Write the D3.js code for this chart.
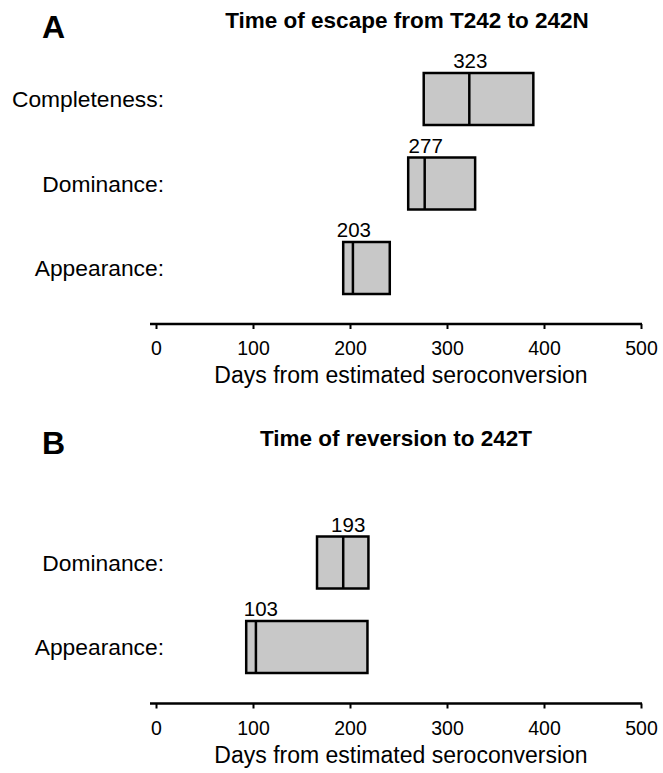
<!DOCTYPE html>
<html>
<head>
<meta charset="utf-8">
<script src="https://cdn.jsdelivr.net/npm/d3@7"></script>
<style>
  body { margin: 0; background: #fff; }
  text { font-family: "Liberation Sans", Arial, Helvetica, sans-serif; fill: #000; }
</style>
</head>
<body>
<script>
// panel A: escape from T242 to 242N
const escapeCategories = ["Completeness:", "Dominance:", "Appearance:"];
const escapeLow = [276, 260, 193];
const escapeMedian = [323, 277, 203];
const escapeHigh = [389, 329, 241];

// panel B: reversion to 242T
const reversionCategories = ["Dominance:", "Appearance:"];
const reversionLow = [166, 93];
const reversionMedian = [193, 103];
const reversionHigh = [219, 218];

const xTicks = [0, 100, 200, 300, 400, 500];

const width = 663, height = 773;

const svg = d3.select("body")
    .append("svg")
    .attr("width", width)
    .attr("height", height);

const x = d3.scaleLinear()
    .domain([0, 500])
    .range([156, 641]);

const boxH = 52;

function drawPanel(opts) {
    const g = svg.append("g");

    // panel letter and title
    g.append("text")
        .attr("x", 42)
        .attr("y", opts.letterY)
        .attr("font-size", 32)
        .attr("font-weight", "bold")
        .text(opts.letter);

    g.append("text")
        .attr("x", opts.titleX)
        .attr("y", opts.titleY)
        .attr("text-anchor", "middle")
        .attr("font-size", 22.5)
        .attr("font-weight", "bold")
        .text(opts.title);

    const y = d3.scalePoint()
        .domain(opts.categories)
        .range(opts.rowRange);

    const rows = opts.categories.map((c, i) => ({
        cat: c, low: opts.low[i], med: opts.median[i], high: opts.high[i]
    }));

    // category labels
    g.selectAll(".cat")
        .data(rows)
        .join("text")
        .attr("class", "cat")
        .attr("x", 164)
        .attr("y", d => y(d.cat) + 8)
        .attr("text-anchor", "end")
        .attr("font-size", 22.8)
        .text(d => d.cat);

    // boxes
    g.selectAll(".box")
        .data(rows)
        .join("rect")
        .attr("class", "box")
        .attr("x", d => x(d.low))
        .attr("y", d => y(d.cat) - boxH / 2)
        .attr("width", d => x(d.high) - x(d.low))
        .attr("height", boxH)
        .attr("fill", "#c8c8c8")
        .attr("stroke", "#000")
        .attr("stroke-width", 2.5);

    g.selectAll(".med")
        .data(rows)
        .join("line")
        .attr("class", "med")
        .attr("x1", d => x(d.med))
        .attr("x2", d => x(d.med))
        .attr("y1", d => y(d.cat) - boxH / 2)
        .attr("y2", d => y(d.cat) + boxH / 2)
        .attr("stroke", "#000")
        .attr("stroke-width", 2.5);

    g.selectAll(".medlabel")
        .data(rows)
        .join("text")
        .attr("class", "medlabel")
        .attr("x", d => x(d.med) + opts.labelDx)
        .attr("y", d => y(d.cat) - boxH / 2 - 5)
        .attr("text-anchor", "middle")
        .attr("font-size", 20.5)
        .text(d => d.med);

    // axis
    const axis = g.append("g")
        .attr("transform", `translate(0,${opts.axisY})`)
        .call(d3.axisBottom(x).tickValues(xTicks).tickSize(5).tickSizeOuter(0));

    axis.select(".domain")
        .attr("d", `M${x(0) - 6},0H${x(500) + 1}`)
        .attr("stroke-width", 2.5);
    axis.selectAll(".tick line").attr("stroke-width", 2);
    axis.selectAll(".tick text")
        .attr("y", 31)
        .attr("dy", 0)
        .attr("font-size", 19.5)
        .attr("font-family", null);

    g.append("text")
        .attr("x", 401)
        .attr("y", opts.axisY + 59)
        .attr("text-anchor", "middle")
        .attr("font-size", 23)
        .text("Days from estimated seroconversion");
}

drawPanel({
    letter: "A", letterY: 38,
    title: "Time of escape from T242 to 242N", titleX: 407, titleY: 28,
    categories: escapeCategories, low: escapeLow, median: escapeMedian, high: escapeHigh,
    rowRange: [99, 268], axisY: 324, labelDx: 1
});

drawPanel({
    letter: "B", letterY: 454,
    title: "Time of reversion to 242T", titleX: 396, titleY: 446,
    categories: reversionCategories, low: reversionLow, median: reversionMedian, high: reversionHigh,
    rowRange: [562.5, 647], axisY: 703.5, labelDx: 5
});
</script>
</body>
</html>
